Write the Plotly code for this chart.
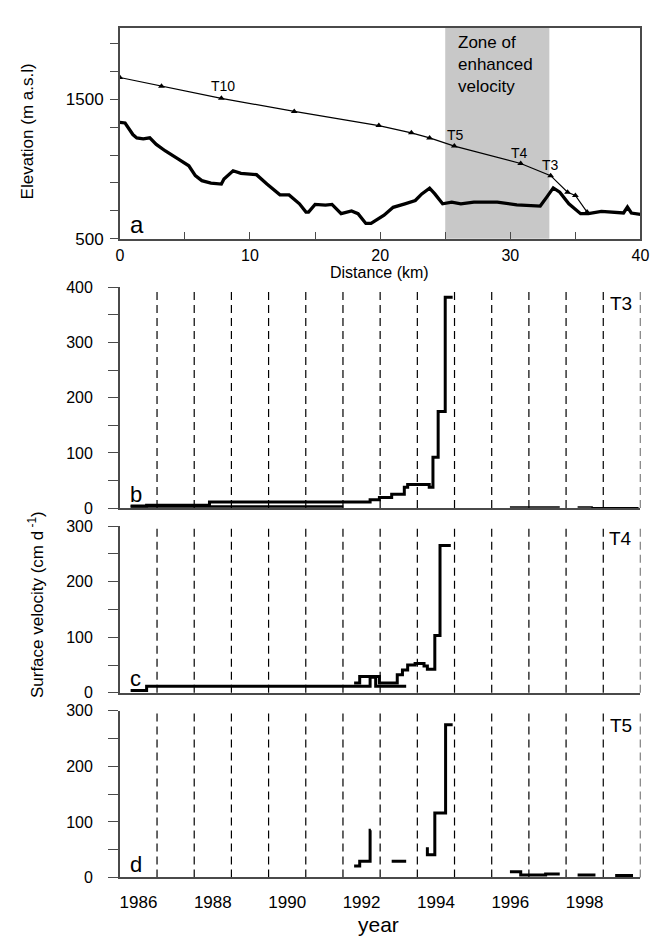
import plotly.graph_objects as go

# ---------------- data ----------------
# Panel a: bed profile (thick line)
BED_KM = [0, 0.4, 1.0, 1.3, 1.8, 2.3, 2.8, 3.5, 4.5, 5.3, 5.8, 6.3, 7.0, 7.8, 8.0, 8.7, 9.3,
          10.5, 11.3, 12.3, 13.0, 13.8, 14.3, 14.5, 15.0, 15.8, 16.3, 17.0, 17.8, 18.3, 18.9,
          19.3, 20.3, 21.0, 21.9, 22.7, 23.2, 23.8, 24.2, 24.8, 25.5, 26.2, 27.2, 29.0, 30.5,
          32.3, 32.8, 33.3, 33.8, 34.5, 35.4, 36.0, 37.0, 38.0, 38.7, 39.0, 39.3, 40.0]
BED_ELEV = [1335, 1330, 1247, 1223, 1216, 1223, 1176, 1129, 1070, 1023, 952, 916, 899, 892, 928,
            987, 968, 959, 892, 814, 814, 750, 691, 691, 746, 740, 746, 679, 699, 679, 609,
            609, 668, 725, 750, 774, 821, 862, 821, 750, 762, 750, 762, 762, 743,
            734, 798, 864, 833, 750, 679, 679, 696, 691, 684, 727, 684, 675]

# Panel a: glacier surface with stake positions (thin line, triangles)
SURF_KM = [0, 3.2, 7.8, 13.4, 19.9, 22.4, 23.8, 25.7, 30.8, 33.1, 34.4, 35.0, 35.9]
SURF_ELEV = [1656, 1594, 1507, 1413, 1311, 1259, 1223, 1164, 1039, 952, 833, 810, 691]
STAKE_NAMES = ["T10", "T5", "T4", "T3"]
STAKE_KM = [7.95, 25.8, 30.7, 33.1]
STAKE_LABEL_ELEV = [1592, 1247, 1117, 1027]
ZONE_KM = [25, 33]

# Panel b (T3): step series (start times, values, end time)
T3_MAIN_T = [1985.79, 1986.22, 1987.91, 1992.23, 1992.48, 1992.81, 1993.15, 1993.24,
             1993.82, 1993.92, 1994.06, 1994.25]
T3_MAIN_V = [4, 5, 11, 15, 19, 25, 38, 43, 38, 92, 175, 382]
T3_MAIN_END = 1994.45
T3_LOW_T = [1985.79]
T3_LOW_V = [3]
T3_LOW_END = 1991.51
T3_LATE = [([1995.99], [2], 1997.33), ([1997.81, 1998.2], [2, 0.5], 1999.45)]

# Panel c (T4)
T4_MAIN_T = [1991.80, 1991.95, 1992.48, 1992.96, 1993.10, 1993.24, 1993.44, 1993.68,
             1993.77, 1993.97, 1994.11]
T4_MAIN_V = [17.6, 29.4, 17.6, 32.4, 41.2, 50, 52.9, 48.2, 42.4, 103, 265]
T4_MAIN_END = 1994.40
T4_LOW_T = [1985.79, 1986.22, 1992.23, 1992.38]
T4_LOW_V = [4, 12, 28, 12]
T4_LOW_END = 1993.20

# Panel d (T5): separate segments
T5_SEGS = [
    ([1991.80, 1991.95, 1992.23], [20.5, 29.4, 85], 1992.25),
    ([1992.81], [29.4], 1993.20),
    ([1993.73, 1993.77, 1993.97, 1994.26], [51.7, 41, 116, 275], 1994.45),
    ([1995.99, 1996.28, 1996.95], [10.5, 4.7, 6.5], 1997.33),
    ([1997.81], [4.7], 1998.29),
    ([1998.82], [3.5], 1999.30),
]

DASH_YEARS = [1986.5 + i for i in range(14)]
YEAR_TICKS = [1986, 1988, 1990, 1992, 1994, 1996, 1998]

# ---------------- helpers ----------------
def steps(starts, values, end):
    return list(starts) + [end], list(values) + [values[-1]]

def joined(segs):
    xs, ys = [], []
    for s, v, e in segs:
        x, y = steps(s, v, e)
        if xs:
            xs.append(None); ys.append(None)
        xs += x; ys += y
    return xs, ys

W, H = 664, 941
FONT = "Liberation Sans, Arial, sans-serif"
AX = "#4a4a4a"

def py(p):
    return 1 - p / H

XDOM = [110 / W, 641 / W]
A_DOM = [py(227), py(12)]
B_DOM = [py(501.7), py(276.7)]
C_DOM = [py(690), py(520)]
D_DOM = [py(878.3), py(708.3)]

fig = go.Figure()

# Panel a
fig.add_trace(go.Scatter(x=SURF_KM, y=SURF_ELEV, mode="lines+markers",
                         line=dict(color="black", width=1.2),
                         marker=dict(symbol="triangle-up", size=6, color="black"),
                         xaxis="x", yaxis="y", showlegend=False))
fig.add_trace(go.Scatter(x=BED_KM, y=BED_ELEV, mode="lines",
                         line=dict(color="black", width=3.3),
                         xaxis="x", yaxis="y", showlegend=False))

# Panel b
x, y = steps(T3_LOW_T, T3_LOW_V, T3_LOW_END)
fig.add_trace(go.Scatter(x=x, y=y, mode="lines", line=dict(color="black", width=2.5, shape="hv"),
                         xaxis="x2", yaxis="y2", showlegend=False))
x, y = steps(T3_MAIN_T, T3_MAIN_V, T3_MAIN_END)
fig.add_trace(go.Scatter(x=x, y=y, mode="lines", line=dict(color="black", width=3, shape="hv"),
                         xaxis="x2", yaxis="y2", showlegend=False))
x, y = joined(T3_LATE)
fig.add_trace(go.Scatter(x=x, y=y, mode="lines", line=dict(color="black", width=1.5, shape="hv"),
                         xaxis="x2", yaxis="y2", showlegend=False))

# Panel c
x, y = steps(T4_LOW_T, T4_LOW_V, T4_LOW_END)
fig.add_trace(go.Scatter(x=x, y=y, mode="lines", line=dict(color="black", width=3, shape="hv"),
                         xaxis="x3", yaxis="y3", showlegend=False))
x, y = steps(T4_MAIN_T, T4_MAIN_V, T4_MAIN_END)
fig.add_trace(go.Scatter(x=x, y=y, mode="lines", line=dict(color="black", width=3, shape="hv"),
                         xaxis="x3", yaxis="y3", showlegend=False))

# Panel d
x, y = joined(T5_SEGS)
fig.add_trace(go.Scatter(x=x, y=y, mode="lines", line=dict(color="black", width=3, shape="hv"),
                         xaxis="x4", yaxis="y4", showlegend=False, connectgaps=False))

shapes = [dict(type="rect", xref="x", yref="y domain", x0=ZONE_KM[0], x1=ZONE_KM[1], y0=0, y1=1,
               fillcolor="#c8c8c8", line=dict(width=0), layer="below")]
for xa, ya in [("x2", "y2"), ("x3", "y3"), ("x4", "y4")]:
    for yr in DASH_YEARS:
        shapes.append(dict(type="line", xref=xa, yref=ya + " domain", x0=yr, x1=yr, y0=0, y1=1,
                           line=dict(color="black", width=1.2, dash="8px,5px"), layer="below"))

tickfont = dict(family=FONT, size=16, color="black")

def lower_x(dom_anchor, show):
    return dict(domain=XDOM, anchor=dom_anchor, range=[1985.5, 1999.5], showline=True,
                linecolor=AX, linewidth=1.5, ticks="", showgrid=False, zeroline=False,
                tickvals=YEAR_TICKS, ticktext=[str(v) for v in YEAR_TICKS],
                showticklabels=show, tickfont=dict(family=FONT, size=17, color="black"),
                ticklabelstandoff=8)

def lower_y(dom, top, anchor):
    vals = list(range(0, top + 1, 50))
    txt = [str(v) if v % 100 == 0 else "" for v in vals]
    return dict(domain=dom, anchor=anchor, range=[0, top], showline=True, linecolor=AX,
                linewidth=1.5, ticks="outside", ticklen=10, tickcolor=AX, tickwidth=1.3,
                tickvals=vals, ticktext=txt, showgrid=False, zeroline=False,
                tickfont=dict(family=FONT, size=16, color="black"), ticklabelstandoff=12)

ann = []
def text(x, y, s, xref, yref, size, xanchor="center", yanchor="middle", **kw):
    ann.append(dict(x=x, y=y, xref=xref, yref=yref, text=s, showarrow=False,
                    xanchor=xanchor, yanchor=yanchor,
                    font=dict(family=FONT, size=size, color="black"), **kw))

for name, km, el in zip(STAKE_NAMES, STAKE_KM, STAKE_LABEL_ELEV):
    text(km, el, name, "x", "y", 14)
text(25.8, 1990, "Zone of<br>enhanced<br>velocity", "x", "y", 17, xanchor="left", yanchor="top",
     align="left")
text(1.3, 605, "a", "x", "y", 24)
text(1985.93, 24, "b", "x2", "y2", 22)
text(1985.93, 26, "c", "x3", "y3", 22)
text(1985.93, 24, "d", "x4", "y4", 22)
text(1998.97, 371, "T3", "x2", "y2", 19)
text(1998.97, 277, "T4", "x3", "y3", 19)
text(1998.97, 274, "T5", "x4", "y4", 19)
text(375 / W, py(261), "Distance (km)", "paper", "paper", 16)
text(374 / W, py(926), "year", "paper", "paper", 21)
text(16 / W, py(118), "Elevation (m a.s.l)", "paper", "paper", 17, textangle=-90)
text(24 / W, py(600), "Surface velocity (cm d<sup> -1</sup>)", "paper", "paper", 17,
     textangle=-90)

a_xvals = list(range(0, 41, 5))
a_yvals = list(range(500, 2000, 200))
fig.update_layout(
    width=W, height=H, autosize=False, margin=dict(l=0, r=0, t=0, b=0),
    paper_bgcolor="white", plot_bgcolor="rgba(0,0,0,0)", showlegend=False,
    xaxis=dict(domain=XDOM, anchor="y", range=[0, 40], showline=True, mirror=True,
               linecolor=AX, linewidth=1.5, ticks="inside", ticklen=7, tickcolor=AX,
               tickwidth=1.3, tickvals=a_xvals,
               ticktext=[str(v) if v % 10 == 0 else "" for v in a_xvals],
               showgrid=False, zeroline=False, tickfont=tickfont, ticklabelstandoff=1),
    yaxis=dict(domain=A_DOM, anchor="x", range=[500, 2013], showline=True, mirror=True,
               linecolor=AX, linewidth=1.5, ticks="outside", ticklen=8, tickcolor=AX,
               tickwidth=1.3, tickvals=a_yvals,
               ticktext=[str(v) if v in (500, 1500) else "" for v in a_yvals],
               showgrid=False, zeroline=False, tickfont=dict(family=FONT, size=17, color="black"),
               ticklabelstandoff=3),
    xaxis2=lower_x("y2", False), yaxis2=lower_y(B_DOM, 400, "x2"),
    xaxis3=lower_x("y3", False), yaxis3=lower_y(C_DOM, 300, "x3"),
    xaxis4=lower_x("y4", True), yaxis4=lower_y(D_DOM, 300, "x4"),
    shapes=shapes, annotations=ann,
)

fig.write_html("out.html")
